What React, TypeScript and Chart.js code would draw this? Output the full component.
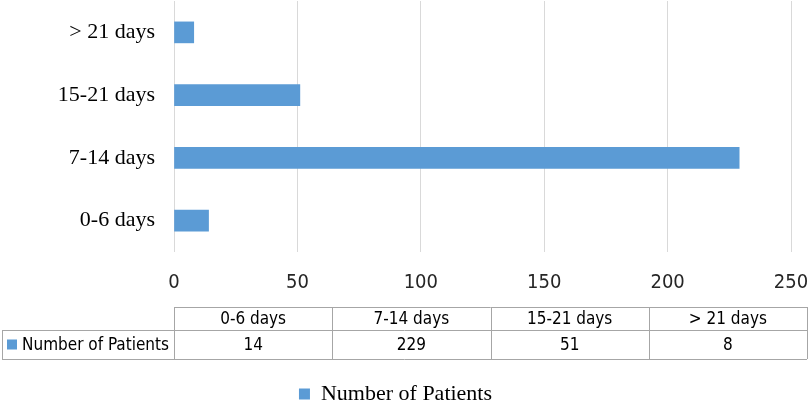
import { useEffect, useRef } from "react";
import { Chart, registerables } from "chart.js";

Chart.register(...registerables);

const categories = ["0-6 days", "7-14 days", "15-21 days", "> 21 days"];
const patients = [14, 229, 51, 8];
const seriesName = "Number of Patients";
const xMin = 0;
const xMax = 250;
const xStep = 50;

const BLUE = "#5b9bd5";
const SERIF = '"Liberation Serif", "Times New Roman", serif';
const SANS = '"Liberation Sans Narrow", "DejaVu Sans Condensed", "Roboto Condensed", Roboto, sans-serif';

// data table drawn under the x axis, columns follow the category order
const dataTable = {
  id: "dataTable",
  afterDraw(chart: Chart) {
    const { ctx, chartArea } = chart;
    const left = chartArea.left;
    const right = chart.width - 3;
    const top = chartArea.bottom + 55;
    const mid = chartArea.bottom + 78;
    const bottom = chartArea.bottom + 107;
    const colW = (right - left) / categories.length;
    const labelLeft = 2;

    ctx.save();
    ctx.strokeStyle = "#a6a6a6";
    ctx.lineWidth = 1;
    ctx.beginPath();
    ctx.moveTo(left, top + 0.5);
    ctx.lineTo(right, top + 0.5);
    ctx.moveTo(labelLeft, mid + 0.5);
    ctx.lineTo(right, mid + 0.5);
    ctx.moveTo(labelLeft, bottom + 0.5);
    ctx.lineTo(right, bottom + 0.5);
    ctx.moveTo(labelLeft + 0.5, mid);
    ctx.lineTo(labelLeft + 0.5, bottom);
    for (let i = 0; i <= categories.length; i++) {
      const x = Math.round(left + i * colW) + 0.5;
      ctx.moveTo(x, top);
      ctx.lineTo(x, bottom);
    }
    ctx.stroke();

    ctx.fillStyle = "#000";
    ctx.font = `17px ${SANS}`;
    ctx.textAlign = "center";
    ctx.textBaseline = "middle";
    categories.forEach((c, i) => {
      const cx = left + (i + 0.5) * colW;
      ctx.fillText(c, cx, (top + mid) / 2 + 1);
      ctx.fillText(String(patients[i]), cx, (mid + bottom) / 2 + 1);
    });

    // series key + name in the row header
    ctx.fillStyle = BLUE;
    ctx.fillRect(7, (mid + bottom) / 2 - 5, 10, 10);
    ctx.fillStyle = "#000";
    ctx.textAlign = "left";
    ctx.fillText(seriesName, 22, (mid + bottom) / 2 + 1);
    ctx.restore();
  },
};

export default function App() {
  const canvasRef = useRef<HTMLCanvasElement>(null);

  useEffect(() => {
    if (!canvasRef.current) return;
    const chart = new Chart(canvasRef.current, {
      type: "bar",
      data: {
        labels: categories,
        datasets: [
          {
            label: seriesName,
            data: patients,
            backgroundColor: BLUE,
            borderWidth: 0,
            barThickness: 21,
          },
        ],
      },
      options: {
        indexAxis: "y",
        responsive: false,
        animation: false,
        layout: { padding: { top: 1, right: 19, left: 0, bottom: -11 } },
        plugins: {
          tooltip: { enabled: false },
          legend: {
            position: "bottom",
            labels: {
              boxWidth: 11,
              boxHeight: 11,
              padding: 0,
              color: "#000",
              font: { family: SERIF, size: 22 },
            },
          },
        },
        scales: {
          x: {
            min: xMin,
            max: xMax,
            ticks: { stepSize: xStep, color: "#262626", padding: 19, font: { family: SANS, size: 20 } },
            grid: { color: "#d9d9d9", drawTicks: false },
            border: { display: false },
            afterFit: (s: any) => {
              s.height = 131;
              s.paddingLeft = 0;
              s.paddingRight = 0;
            },
          },
          y: {
            reverse: true,
            ticks: { color: "#000", padding: 0, font: { family: SERIF, size: 22 } },
            grid: { display: false, drawTicks: true, tickLength: 19 },
            border: { display: false },
            afterFit: (s: any) => {
              s.width = 174;
              s.paddingTop = 0;
              s.paddingBottom = 0;
            },
          },
        },
      },
      plugins: [dataTable],
    });
    return () => chart.destroy();
  }, []);

  return (
    <div style={{ position: "absolute", left: 0, top: 0, width: 810, height: 404, background: "#fff" }}>
      <canvas ref={canvasRef} width={810} height={404} />
    </div>
  );
}
